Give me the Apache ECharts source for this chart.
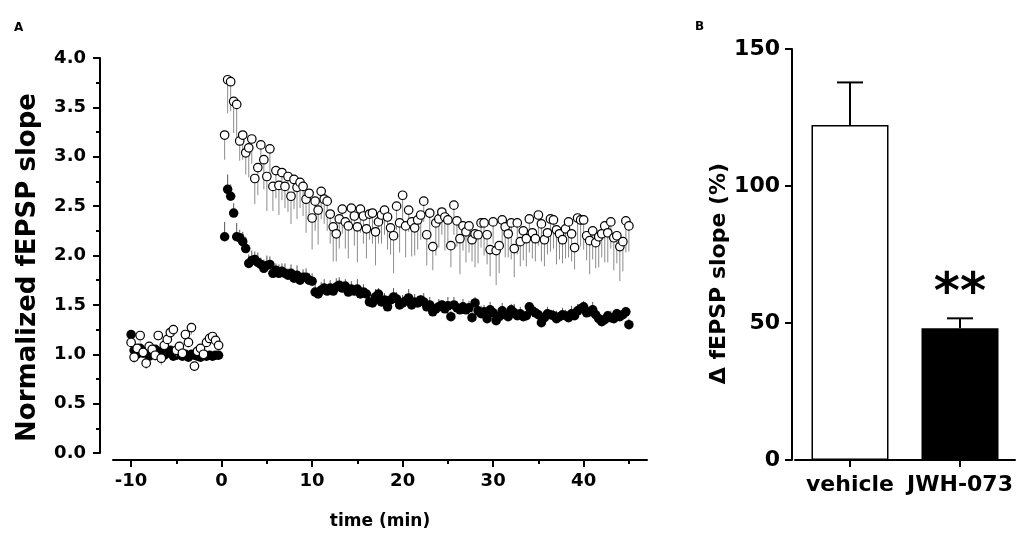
<!DOCTYPE html>
<html><head><meta charset="utf-8">
<script src="https://cdn.jsdelivr.net/npm/echarts@6/dist/echarts.min.js"></script>
<style>html,body{margin:0;padding:0;background:#fff}#c{width:1021px;height:542px}</style>
</head><body><div id="c"></div>
<script>
// ---- Panel A data (normalized fEPSP slope), sampled every 20 s ----
const baselineStart = -10;          // min
const sampleStep = 1 / 3;           // min (20 s)
const vehBase = [1.12,0.97,1.06,1.19,1.02,0.91,1.08,1.05,0.99,1.19,0.96,1.09,1.15,1.22,1.25,
                 1.04,1.08,1.01,1.20,1.12,1.27,0.88,1.03,1.06,1.00,1.12,1.16,1.18,1.14,1.09];
const jwhBase = [1.20,1.04,1.00,1.06,1.01,1.03,0.98,1.02,1.05,1.00,1.03,0.99,1.01,1.04,0.98,
                 0.99,1.02,0.98,1.00,0.97,1.00,0.99,0.98,0.97,1.00,0.98,0.99,0.98,0.99,0.99];
const vehPost = [3.22,3.78,3.76,3.56,3.53,3.16,3.22,3.04,3.09,3.18,2.78,2.89,3.12,2.97,2.80,
                 3.08,2.70,2.86,2.71,2.84,2.70,2.80,2.60,2.77,2.69,2.74,2.70,2.57,2.63,2.38,
                 2.55,2.46,2.65,2.57,2.55,2.42,2.29,2.22,2.37,2.47,2.34,2.30,2.48,2.40,2.29,
                 2.47,2.40,2.27,2.42,2.43,2.24,2.34,2.41,2.46,2.39,2.28,2.20,2.50,2.33,2.61,
                 2.30,2.46,2.34,2.28,2.36,2.41,2.55,2.21,2.43,2.09,2.33,2.37,2.44,2.39,2.36,
                 2.10,2.51,2.35,2.17,2.30,2.24,2.30,2.16,2.22,2.21,2.33,2.33,2.21,2.06,2.34,
                 2.05,2.10,2.36,2.29,2.22,2.33,2.07,2.33,2.14,2.25,2.17,2.37,2.23,2.17,2.41,
                 2.32,2.16,2.23,2.37,2.36,2.26,2.22,2.16,2.27,2.34,2.22,2.08,2.38,2.36,2.36,
                 2.20,2.15,2.25,2.13,2.19,2.22,2.30,2.23,2.34,2.18,2.20,2.09,2.14,2.35,2.30];
const jwhPost = [2.19,2.67,2.60,2.43,2.19,2.18,2.14,2.07,1.92,1.95,1.96,1.93,1.91,1.87,1.90,
                 1.91,1.82,1.85,1.82,1.84,1.82,1.80,1.82,1.77,1.80,1.75,1.78,1.78,1.75,1.74,
                 1.63,1.61,1.65,1.67,1.64,1.67,1.64,1.68,1.70,1.67,1.69,1.63,1.66,1.64,1.66,
                 1.61,1.63,1.61,1.53,1.52,1.58,1.61,1.53,1.55,1.48,1.55,1.58,1.56,1.50,1.52,
                 1.54,1.57,1.50,1.53,1.52,1.55,1.53,1.48,1.50,1.43,1.46,1.48,1.50,1.46,1.49,
                 1.38,1.50,1.47,1.45,1.48,1.45,1.47,1.37,1.52,1.44,1.41,1.43,1.36,1.45,1.42,
                 1.34,1.38,1.44,1.40,1.38,1.45,1.42,1.39,1.41,1.38,1.39,1.48,1.44,1.42,1.40,
                 1.32,1.37,1.41,1.40,1.39,1.36,1.38,1.40,1.39,1.37,1.41,1.39,1.44,1.46,1.48,
                 1.42,1.43,1.45,1.40,1.36,1.33,1.35,1.39,1.37,1.36,1.41,1.38,1.40,1.43,1.30];
const vehErrBase = [.05,.06,.04,.07,.05,.06,.05,.04,.06,.05,.07,.05,.04,.06,.05,
                    .06,.05,.04,.06,.05,.07,.05,.04,.06,.05,.04,.05,.06,.04,.05];
const jwhErrBase = [.04,.03,.04,.03,.04,.03,.04,.03,.03,.04,.03,.04,.03,.03,.04,
                    .03,.04,.03,.03,.04,.03,.03,.04,.03,.03,.04,.03,.03,.04,.03];
const vehErrPost = [.25,.34,.30,.32,.33,.20,.25,.22,.30,.25,.26,.28,.22,.30,.35,
                    .30,.25,.28,.30,.28,.22,.36,.28,.30,.32,.26,.30,.34,.28,.32,
                    .30,.35,.28,.25,.30,.30,.35,.28,.30,.25,.27,.33,.22,.30,.36,
                    .24,.28,.30,.26,.31,.34,.22,.29,.25,.33,.27,.38,.24,.30,.26,
                    .32,.22,.35,.28,.30,.25,.21,.31,.27,.24,.33,.29,.23,.34,.28,
                    .22,.30,.26,.36,.25,.31,.27,.22,.34,.29,.25,.33,.30,.27,.22,
                    .35,.28,.26,.31,.24,.37,.29,.32,.25,.30,.28,.34,.26,.23,.31,
                    .38,.27,.22,.33,.29,.35,.26,.24,.30,.36,.28,.22,.32,.27,.30,
                    .25,.34,.29,.26,.31,.24,.37,.30,.27,.33,.28,.35,.30,.32,.26];
const jwhErrPost = [.15,.15,.12,.10,.14,.08,.10,.12,.09,.10,.08,.10,.07,.09,.10,
                    .08,.10,.07,.09,.08,.10,.07,.09,.08,.10,.06,.08,.09,.07,.08,
                    .10,.07,.08,.09,.06,.08,.07,.09,.08,.06,.07,.09,.08,.06,.10,
                    .07,.08,.06,.09,.07,.08,.06,.10,.07,.08,.05,.09,.07,.06,.08,
                    .07,.09,.06,.08,.07,.05,.09,.06,.08,.07,.06,.08,.05,.07,.09,
                    .06,.08,.07,.05,.08,.06,.07,.09,.06,.05,.08,.07,.06,.08,.05,
                    .07,.06,.08,.05,.07,.06,.09,.05,.07,.06,.08,.05,.07,.06,.05,
                    .08,.06,.07,.05,.06,.08,.05,.07,.06,.05,.08,.06,.07,.05,.06,
                    .07,.05,.08,.06,.05,.07,.06,.05,.07,.06,.05,.07,.06,.05,.06];
const xMajorTicks = [-10, 0, 10, 20, 30, 40];
const xMinorTicks = [-5, 5, 15, 25, 35, 45];

// ---- Panel B data ----
const barCats = ['vehicle', 'JWH-073'];
const barVals = [122.3, 48.1];
const barErr = [15.5, 3.6];
const barSig = ['', '**'];

// ---- build ----
const times = [];
for (let i = 0; i < vehBase.length; i++) times.push(baselineStart + i * sampleStep);
for (let k = 1; k <= vehPost.length; k++) times.push(k * sampleStep);
const veh = vehBase.concat(vehPost), jwh = jwhBase.concat(jwhPost);
const vehErr = vehErrBase.concat(vehErrPost), jwhErr = jwhErrBase.concat(jwhErrPost);

const FONT = 'DejaVu Sans';
const chart = echarts.init(document.getElementById('c'), null, {renderer: 'canvas'});

function errLine(color) {
  return function (params, api) {
    const p1 = api.coord([api.value(0), api.value(1)]);
    const p2 = api.coord([api.value(0), api.value(2)]);
    return {type: 'line', shape: {x1: p1[0], y1: p1[1], x2: p2[0], y2: p2[1]},
            style: {stroke: color, lineWidth: 1}};
  };
}

const axisLineStyle = {show: true, onZero: false, lineStyle: {color: '#000', width: 2}};
const option = {
  animation: false,
  backgroundColor: '#fff',
  title: [
    {text: 'A', left: 9, top: 17, textStyle: {fontFamily: FONT, fontWeight: 'bold', fontSize: 12, color: '#000'}},
    {text: 'B', left: 690, top: 16, textStyle: {fontFamily: FONT, fontWeight: 'bold', fontSize: 12, color: '#000'}}
  ],
  grid: [
    {left: 113, top: 58, width: 534, height: 395},
    {left: 795, top: 49, width: 220, height: 411}
  ],
  xAxis: [
    {type: 'value', gridIndex: 0, min: -12, max: 47, position: 'bottom', offset: 7,
     axisLine: axisLineStyle,
     axisTick: {show: true, length: 7, lineStyle: {width: 2, color: '#000'}, customValues: xMajorTicks},
     axisLabel: {customValues: xMajorTicks, fontFamily: FONT, fontWeight: 'bold', fontSize: 18, color: '#000', margin: 12},
     splitLine: {show: false},
     name: 'time (min)', nameLocation: 'middle', nameGap: 53,
     nameTextStyle: {fontFamily: FONT, fontWeight: 'bold', fontSize: 17, color: '#000'}},
    {type: 'value', gridIndex: 0, min: -12, max: 47, position: 'bottom', offset: 7,
     axisLine: {show: false, onZero: false},
     axisTick: {show: true, length: 4, lineStyle: {width: 2, color: '#000'}, customValues: xMinorTicks},
     axisLabel: {show: false}, splitLine: {show: false}},
    {type: 'category', gridIndex: 1, data: barCats,
     axisLine: axisLineStyle,
     axisTick: {show: true, alignWithLabel: true, length: 7, lineStyle: {width: 2, color: '#000'}},
     axisLabel: {interval: 0, hideOverlap: false, fontFamily: FONT, fontWeight: 'bold', fontSize: 22, color: '#000', margin: 14}}
  ],
  yAxis: [
    {type: 'value', gridIndex: 0, min: 0, max: 4, interval: 0.5, offset: 13,
     axisLine: axisLineStyle,
     axisTick: {show: true, length: 7, lineStyle: {width: 2, color: '#000'}},
     minorTick: {show: true, splitNumber: 2, length: 4, lineStyle: {width: 2, color: '#000'}},
     axisLabel: {formatter: v => v.toFixed(1), fontFamily: FONT, fontWeight: 'bold', fontSize: 18, color: '#000', margin: 14},
     splitLine: {show: false}, minorSplitLine: {show: false},
     name: 'Normalized fEPSP slope', nameLocation: 'middle', nameGap: 59,
     nameTextStyle: {fontFamily: FONT, fontWeight: 'bold', fontSize: 26, color: '#000', padding: [0, 24, 0, 0]}},
    {type: 'value', gridIndex: 1, min: 0, max: 150, interval: 50, offset: 3,
     axisLine: axisLineStyle,
     axisTick: {show: true, length: 7, lineStyle: {width: 2, color: '#000'}},
     axisLabel: {fontFamily: FONT, fontWeight: 'bold', fontSize: 22, color: '#000', margin: 12},
     splitLine: {show: false},
     name: 'Δ fEPSP slope (%)', nameLocation: 'middle', nameGap: 58,
     nameTextStyle: {fontFamily: FONT, fontWeight: 'bold', fontSize: 22, color: '#000', padding: [0, 38, 0, 0]}}
  ],
  series: [
    {type: 'custom', xAxisIndex: 0, yAxisIndex: 0, silent: true, z: 1,
     encode: {x: 0, y: [1, 2]},
     data: jwh.map((v, i) => [times[i], v, v + jwhErr[i]]), renderItem: errLine('#555')},
    {type: 'scatter', xAxisIndex: 0, yAxisIndex: 0, z: 2, symbol: 'circle', symbolSize: 9.5,
     itemStyle: {color: '#000', opacity: 1},
     data: jwh.map((v, i) => [times[i], v])},
    {type: 'custom', xAxisIndex: 0, yAxisIndex: 0, silent: true, z: 3,
     encode: {x: 0, y: [1, 2]},
     data: veh.map((v, i) => [times[i], v, v - vehErr[i]]), renderItem: errLine('#8c8c8c')},
    {type: 'scatter', xAxisIndex: 0, yAxisIndex: 0, z: 4, symbol: 'circle', symbolSize: 8.5,
     itemStyle: {color: '#fff', borderColor: '#000', borderWidth: 1.2, opacity: 1},
     data: veh.map((v, i) => [times[i], v])},
    {type: 'bar', xAxisIndex: 2, yAxisIndex: 1, barWidth: '70%', z: 2,
     data: barVals.map((v, i) => ({value: v,
       itemStyle: i === 0 ? {color: '#fff', borderColor: '#000', borderWidth: 1.5} : {color: '#000', borderColor: '#000', borderWidth: 1.5}}))},
    {type: 'custom', xAxisIndex: 2, yAxisIndex: 1, z: 3, silent: true,
     encode: {x: 0, y: [1, 2]},
     data: barVals.map((v, i) => [i, v, v + barErr[i]]),
     renderItem: function (params, api) {
       const p1 = api.coord([api.value(0), api.value(1)]);
       const p2 = api.coord([api.value(0), api.value(2)]);
       const sig = barSig[params.dataIndex];
       const children = [
         {type: 'line', shape: {x1: p1[0], y1: p1[1], x2: p2[0], y2: p2[1]}, style: {stroke: '#000', lineWidth: 2}},
         {type: 'line', shape: {x1: p2[0] - 13, y1: p2[1], x2: p2[0] + 13, y2: p2[1]}, style: {stroke: '#000', lineWidth: 2}}
       ];
       if (sig) children.push({type: 'text', x: p2[0], y: p2[1] + 2,
         style: {text: sig, fontFamily: FONT, fontWeight: 'bold', fontSize: 50, fill: '#000', align: 'center', verticalAlign: 'bottom'}});
       return {type: 'group', children: children};
     }}
  ]
};
chart.setOption(option);
</script></body></html>
